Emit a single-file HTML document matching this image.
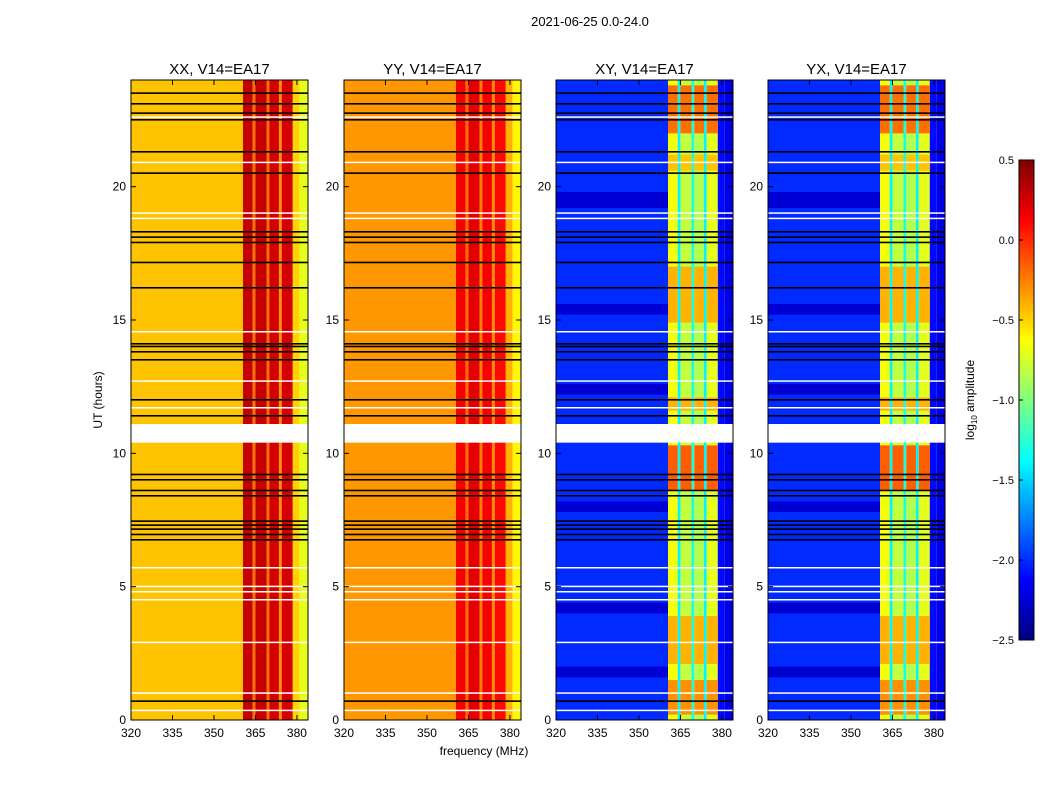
<!DOCTYPE html>
<html><head><meta charset="utf-8">
<style>
html,body{margin:0;padding:0;background:#fff;}
svg{display:block;font-family:"Liberation Sans","DejaVu Sans",sans-serif;}
</style></head>
<body>
<svg id="fig" width="1050" height="800" viewBox="0 0 1050 800" xmlns="http://www.w3.org/2000/svg">
<text x="590" y="26" font-size="13" text-anchor="middle">2021-06-25 0.0-24.0</text>
<text x="484" y="755" font-size="12" text-anchor="middle">frequency (MHz)</text>
<text transform="translate(102,400) rotate(-90)" font-size="12" text-anchor="middle">UT (hours)</text>
<text transform="translate(974,400) rotate(-90)" font-size="12" text-anchor="middle">log<tspan font-size="8" dy="3">10</tspan><tspan dy="-3"> amplitude</tspan></text>
<g id="panels"></g>
<g id="cbar"></g>
</svg>
<script>
// ---- data ----
const panelTitles = ["XX, V14=EA17","YY, V14=EA17","XY, V14=EA17","YX, V14=EA17"];
const panelLefts = [131,344,556,768];
const freqTicks = [320,335,350,365,380];
const timeTicks = [0,5,10,15,20];
// frequency segments (MHz start, end)
const segStart = [320,360.5,364,365,369,370,373.5,374.5,378.5,381];
const segEnd   = [360.5,364,365,369,370,373.5,374.5,378.5,381,384];
// log10 amplitude per segment, per panel
const valsXX = [-0.45,0.3,-0.2,0.3,-0.2,0.25,-0.3,0.25,-0.5,-0.7];
const valsYY = [-0.32,0.15,-0.2,0.2,-0.25,0.15,-0.3,0.1,-0.4,-0.6];
const valsXY = [-2.0,-0.65,-1.4,-0.8,-1.3,-0.85,-1.4,-0.7,-2.1,-2.2];
const valsYX = [-2.0,-0.65,-1.4,-0.8,-1.3,-0.85,-1.4,-0.7,-2.1,-2.2];
const panelVals = [valsXX,valsYY,valsXY,valsYX];
// cross-pol "hot" time bands in RFI columns (hours) and value
const hotStart = [0.2,2.1,8.6,11.6,14.9,20.6,22.0];
const hotEnd   = [1.5,3.9,10.3,12.1,17.0,21.2,23.8];
const hotVal   = [-0.3,-0.4,-0.15,-0.4,-0.4,-0.45,-0.2];
// darker noise rows in cross-pol low band
const darkRowStart = [1.6,4.0,7.8,12.2,15.2,19.2];
const darkRowEnd   = [2.0,4.4,8.2,12.6,15.6,19.8];
// flagged rows (hours)
const blackRows = [0.7,6.75,6.95,7.15,7.3,7.45,8.4,8.6,9.0,9.2,11.4,12.0,13.5,13.8,14.0,14.1,16.2,17.15,17.9,18.1,18.3,20.5,21.3,22.5,22.75,23.1,23.5];
const whiteRows = [0.35,1.0,2.9,4.5,4.8,5.0,5.7,11.7,12.7,14.55,18.8,19.0,20.9,22.6];
const gapStart = [10.4];
const gapEnd = [11.1];
const cbarTicks = [0.5,0.0,-0.5,-1.0,-1.5,-2.0,-2.5];

// ---- scales ----
const topY=80, botY=720, W=177;
const yOf = t => botY - (t/24)*(botY-topY);
const xOf = (f,x0) => x0 + (f-320)/64*W;
function jet(v){
  let t=(v+2.5)/3; t=Math.max(0,Math.min(1,t));
  const c=x=>Math.round(255*Math.max(0,Math.min(1,x)));
  return `rgb(${c(1.5-Math.abs(4*t-3))},${c(1.5-Math.abs(4*t-2))},${c(1.5-Math.abs(4*t-1))})`;
}
const NS="http://www.w3.org/2000/svg";
function el(tag,attrs,parent){const e=document.createElementNS(NS,tag);for(const k in attrs)e.setAttribute(k,attrs[k]);parent.appendChild(e);return e;}
const panelsG=document.getElementById('panels');
panelLefts.forEach((x0,p)=>{
  const g=el('g',{},panelsG);
  
  
  const vals=panelVals[p];
  segStart.forEach((f,i)=>{
    const r=el('rect',{x:xOf(f,x0),y:topY,width:xOf(segEnd[i],x0)-xOf(f,x0),height:botY-topY,fill:jet(vals[i])},g);
    
    
  });
  if(p>=2){
    darkRowStart.forEach((t,i)=>{
      const r=el('rect',{x:x0,y:yOf(darkRowEnd[i]),width:xOf(360.5,x0)-x0,height:yOf(t)-yOf(darkRowEnd[i]),fill:jet(-2.25)},g);
      
      
    });
    hotStart.forEach((t,i)=>{
      [0,2,4,6].forEach(si=>{
        const s=si+1;
        const r=el('rect',{x:xOf(segStart[s],x0),y:yOf(hotEnd[i]),width:xOf(segEnd[s],x0)-xOf(segStart[s],x0),height:yOf(t)-yOf(hotEnd[i]),fill:jet(hotVal[i])},g);
        
        
      });
    });
  }
  whiteRows.forEach(t=>{
    const r=el('rect',{x:x0,y:yOf(t)-1,width:W,height:1.5,fill:'#fff'},g);
    
    
  });
  blackRows.forEach(t=>{
    const r=el('rect',{x:x0,y:yOf(t)-1,width:W,height:1.6,fill:'#000'},g);
    
    
  });
  gapStart.forEach((t,i)=>{
    const r=el('rect',{x:x0,y:yOf(gapEnd[i]),width:W,height:yOf(t)-yOf(gapEnd[i]),fill:'#fff'},g);
    
    
  });
  el('rect',{x:x0,y:topY,width:W,height:botY-topY,fill:'none',stroke:'#000','stroke-width':1},g);
  const tt=el('text',{x:x0+W/2,y:74,'font-size':15,'text-anchor':'middle'},g);
  tt.textContent=panelTitles[p];
  
  
  freqTicks.forEach(f=>{
    const x=xOf(f,x0);
    el('line',{x1:x,x2:x,y1:botY,y2:botY-5,stroke:'#000'},g);
    el('line',{x1:x,x2:x,y1:topY,y2:topY+5,stroke:'#000'},g);
    const l=el('text',{x:x,y:botY+17,'font-size':12,'text-anchor':'middle'},g);
    l.textContent=f;
    
    
  });
  timeTicks.forEach(t=>{
    const y=yOf(t);
    el('line',{x1:x0,x2:x0+5,y1:y,y2:y,stroke:'#000'},g);
    el('line',{x1:x0+W,x2:x0+W-5,y1:y,y2:y,stroke:'#000'},g);
    const l=el('text',{x:x0-5,y:y+4,'font-size':12,'text-anchor':'end'},g);
    l.textContent=t;
    
    
  });
});
// colorbar
const cb=document.getElementById('cbar');
const cx=1019,cw=15,ct=160,cbt=640;
const cy=v=>cbt-(v+2.5)/3*(cbt-ct);
for(let i=0;i<120;i++){
  const v=-2.5+3*i/120;
  const r=el('rect',{x:cx,y:cy(v+3/120),width:cw,height:(cbt-ct)/120+0.5,fill:jet(v+1.5/120)},cb);
  
  
}
el('rect',{x:cx,y:ct,width:cw,height:cbt-ct,fill:'none',stroke:'#000'},cb);
cbarTicks.forEach(v=>{
  const y=cy(v);
  el('line',{x1:cx,x2:cx+4,y1:y,y2:y,stroke:'#000'},cb);
  const l=el('text',{x:1014,y:y+4,'font-size':11,'text-anchor':'end'},cb);
  l.textContent=(v<0?'\u2212':'')+Math.abs(v).toFixed(1);
  
  
});
</script>
</body></html>
